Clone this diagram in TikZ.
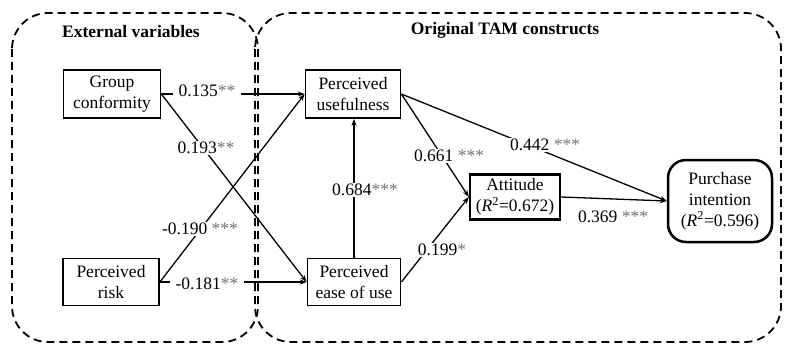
\documentclass[tikz,border=0pt]{standalone}
\usepackage{fontspec}
\setmainfont{Liberation Serif}
\usetikzlibrary{arrows.meta}
\newcommand\sgstar[1]{\textcolor[gray]{0.45}{#1}}
\begin{document}
\begin{tikzpicture}[x=1pt,y=-1pt,
  every node/.style={font=\fontsize{17.5}{21}\selectfont, align=center, inner sep=0pt},
  varbox/.style={draw, line width=1.7pt, minimum height=47pt},
  conn/.style={line width=1.3pt, -{Stealth[length=7pt,width=5pt]}},
  lab/.style={fill=white, inner xsep=6pt, inner ysep=1pt},
  grp/.style={dash pattern=on 8pt off 5pt, line width=1.8pt, rounded corners=36pt},
  ttl/.style={font=\fontsize{17.5}{21}\selectfont\bfseries}
]
\useasboundingbox (0,0) rectangle (791,350);
% groups
\draw[grp] (12,13) rectangle (258,342);
\draw[grp] (255,13) rectangle (781,342);
\node[ttl] (t1) at (131,32) {External variables};
\node[ttl] (t2) at (505,30) {Original TAM constructs};
% boxes
\node[varbox, minimum width=97pt, minimum height=48pt] (gc) at (112,94) {Group\\conformity};
\node[varbox, minimum width=96pt] (pr) at (111,282) {Perceived\\risk};
\node[varbox, minimum width=95pt, minimum height=48pt] (pu) at (353,94) {Perceived\\usefulness};
\node[varbox, minimum width=93pt] (peu) at (354,282) {Perceived\\ease of use};
\node[varbox, line width=2.3pt, minimum width=90pt, minimum height=45pt] (att) at (515,197) {Attitude\\(\textit{R}\textsuperscript{2}=0.672)};
\node[draw, line width=2.5pt, rounded corners=18pt, minimum width=104pt, minimum height=82pt] (pi) at (720,201) {Purchase\\intention\\(\textit{R}\textsuperscript{2}=0.596)};
% connectors
\draw[conn] (gc.east) -- (pu.west);
\draw[conn] (gc.east) -- (peu.west);
\draw[conn] (pr.east) -- (pu.west);
\draw[conn] (pr.east) -- (peu.west);
\draw[conn] (peu.north) -- (peu.north |- pu.south);
\draw[conn] (pu.east) -- (att.west);
\draw[conn] (peu.east) -- (att.west);
\draw[conn] (pu.east) -- (pi.west);
\draw[conn] (att.east) -- (pi.west);
% labels
\node[lab] (l1) at (207,91) {0.135\sgstar{**}};
\node[lab] (l2) at (206,148) {0.193\sgstar{**}};
\node[lab] (l3) at (200,229) {-0.190 \sgstar{***}};
\node[lab] (l4) at (207,284) {-0.181\sgstar{**}};
\node[lab] (l5) at (365,190) {0.684\sgstar{***}};
\node[lab] (l6) at (449,156) {0.661 \sgstar{***}};
\node[lab] (l7) at (545,145) {0.442 \sgstar{***}};
\node[lab] (l8) at (613,217) {0.369 \sgstar{***}};
\node[lab] (l9) at (442,250) {0.199\sgstar{*}};
\end{tikzpicture}
\end{document}
